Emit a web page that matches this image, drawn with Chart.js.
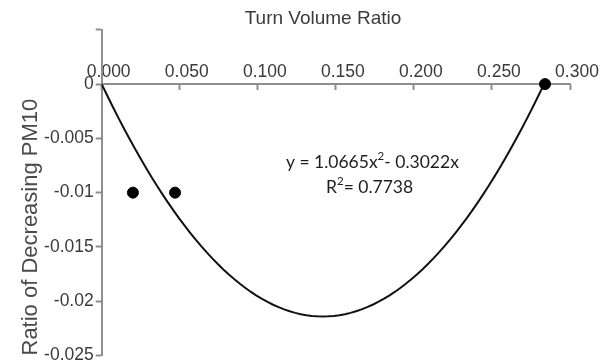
<!DOCTYPE html>
<html>
<head>
<meta charset="utf-8">
<script src="https://cdn.jsdelivr.net/npm/chart.js@4/dist/chart.umd.min.js"></script>
<style>
  html, body { margin: 0; padding: 0; background: #fff; }
  canvas { display: block; }
</style>
</head>
<body>
<canvas id="chart" width="614" height="362"></canvas>
<script>
// Observed points: turn volume ratio vs. ratio of decreasing PM10
const TURN_VOLUME_RATIO = [0.020, 0.047, 0.284];
const PM10_DECREASE_RATIO = [-0.010, -0.010, 0.000];

// Axis ticks and their labels
const X_TICKS = [0, 0.05, 0.10, 0.15, 0.20, 0.25, 0.30];
const X_TICK_LABELS = ['0.000', '0.050', '0.100', '0.150', '0.200', '0.250', '0.300'];
const Y_TICKS = [-0.025, -0.02, -0.015, -0.01, -0.005, 0, 0.005];
const Y_TICK_LABELS = ['-0.025', '-0.02', '-0.015', '-0.01', '-0.005', '0', ''];

// Polynomial trendline (order 2, through the origin) as printed on the chart
const TREND_A = 1.0665;
const TREND_B = -0.3022;
const TREND_R2 = 0.7738;

// Trendline evaluated from the printed coefficients, from the origin to its second root
const trendEnd = -TREND_B / TREND_A;
const trendPoints = [];
for (let i = 0; i <= 80; i++) {
  const xv = trendEnd * i / 80;
  trendPoints.push({ x: xv, y: TREND_A * xv * xv + TREND_B * xv });
}

const scatterPoints = TURN_VOLUME_RATIO.map((v, i) => ({ x: v, y: PM10_DECREASE_RATIO[i] }));

const AXIS_GREY = '#8e8e8e';
const TEXT_GREY = '#3a3a3a';

// Equation and R² label, anchored in data coordinates
const trendLabel = {
  id: 'trendLabel',
  afterDatasetsDraw(chart) {
    const { ctx, scales: { x, y } } = chart;
    ctx.save();
    ctx.fillStyle = '#1e1e1e';
    ctx.textBaseline = 'alphabetic';
    ctx.textAlign = 'left';
    const main = '17.5px Lato';
    const sup = '11.5px Lato';

    const drawRun = (parts, px, py) => {
      let cx = px;
      parts.forEach(p => {
        ctx.font = p.sup ? sup : main;
        ctx.fillText(p.t, cx, py - (p.sup ? 8 : 0));
        cx += ctx.measureText(p.t).width;
      });
    };

    drawRun([
      { t: 'y = ' + TREND_A.toFixed(4) + 'x' },
      { t: '2', sup: true },
      { t: '- ' + Math.abs(TREND_B).toFixed(4) + 'x' }
    ], x.getPixelForValue(0.118), y.getPixelForValue(-0.0077));

    drawRun([
      { t: 'R' },
      { t: '2', sup: true },
      { t: '= ' + TREND_R2.toFixed(4) }
    ], x.getPixelForValue(0.1437), y.getPixelForValue(-0.01004));
    ctx.restore();
  }
};

new Chart(document.getElementById('chart'), {
  type: 'scatter',
  data: {
    datasets: [
      {
        type: 'line',
        data: trendPoints,
        borderColor: '#111',
        borderWidth: 2,
        pointRadius: 0,
        fill: false,
        tension: 0,
        order: 2
      },
      {
        data: scatterPoints,
        backgroundColor: '#000',
        borderColor: '#000',
        pointRadius: 5.5,
        pointHoverRadius: 5.5,
        order: 1
      }
    ]
  },
  options: {
    responsive: false,
    animation: false,
    devicePixelRatio: 1,
    layout: { padding: { left: 32, right: 0, top: 0, bottom: 6.5 } },
    plugins: {
      legend: { display: false },
      tooltip: { enabled: false },
      title: {
        display: true,
        text: 'Turn Volume Ratio',
        color: TEXT_GREY,
        font: { family: 'Liberation Sans', size: 19, weight: 'normal' },
        padding: { top: 7, bottom: 0 }
      }
    },
    scales: {
      x: {
        type: 'linear',
        position: { y: 0 },
        min: 0,
        max: 0.3,
        afterBuildTicks: s => { s.ticks = X_TICKS.map(v => ({ value: v })); },
        afterFit: s => { s.paddingLeft = 0; s.paddingRight = 44; },
        ticks: {
          callback: (v, i) => X_TICK_LABELS[i],
          color: TEXT_GREY,
          font: { family: 'Liberation Sans', size: 17.5 },
          labelOffset: 7,
          padding: -27,
          maxRotation: 0,
          autoSkip: false
        },
        grid: { drawOnChartArea: false, tickLength: 5, tickColor: AXIS_GREY, tickWidth: 2 },
        border: { color: AXIS_GREY, width: 2 }
      },
      y: {
        type: 'linear',
        position: 'left',
        min: -0.025,
        max: 0.005,
        afterBuildTicks: s => { s.ticks = Y_TICKS.map(v => ({ value: v })); },
        afterFit: s => { s.width = 69.7; s.paddingTop = 0; s.paddingBottom = 0; },
        ticks: {
          callback: (v, i) => Y_TICK_LABELS[i],
          color: TEXT_GREY,
          font: { family: 'Liberation Sans', size: 17.5 },
          padding: 2,
          autoSkip: false
        },
        grid: { drawOnChartArea: false, tickLength: 6, tickColor: AXIS_GREY, tickWidth: 2 },
        border: { color: AXIS_GREY, width: 2 },
        title: {
          display: true,
          text: 'Ratio of Decreasing PM10',
          color: '#4a4a4a',
          align: 'start',
          font: { family: 'Liberation Sans', size: 22, weight: 'normal' },
          padding: { top: -14, bottom: 0 }
        }
      }
    }
  },
  plugins: [trendLabel]
});
</script>
</body>
</html>
